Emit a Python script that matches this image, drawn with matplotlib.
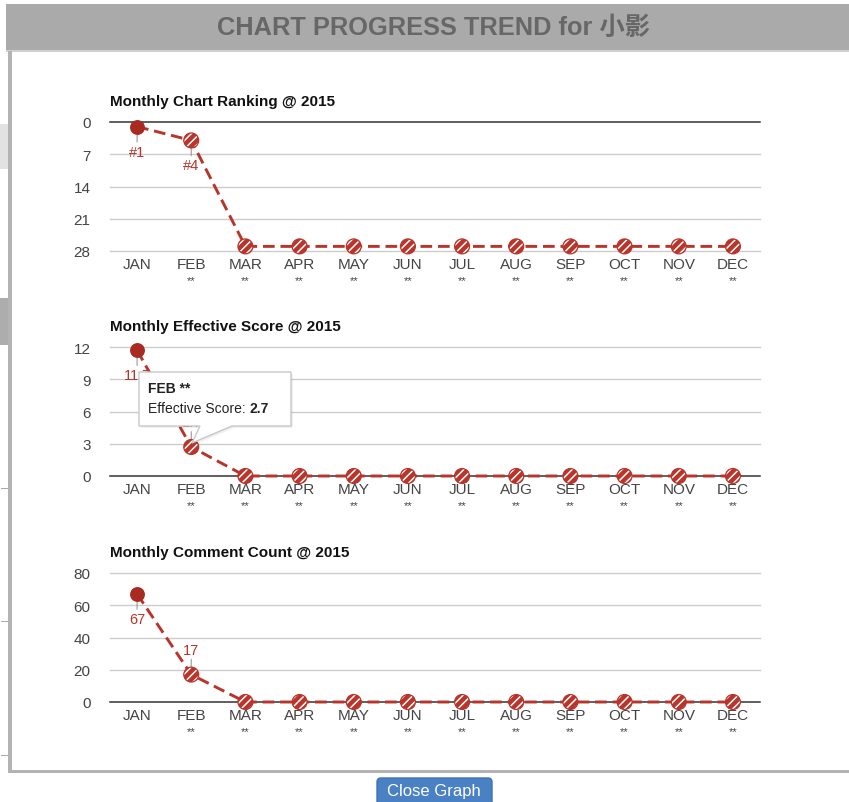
import matplotlib
matplotlib.use("Agg")
import matplotlib.pyplot as plt
from matplotlib.patches import Rectangle, FancyBboxPatch, Polygon

plt.rcParams['font.family'] = ['Liberation Sans', 'Noto Sans CJK SC', 'DejaVu Sans']
plt.rcParams['hatch.color'] = 'white'
plt.rcParams['hatch.linewidth'] = 1.1

# ---------------- data ----------------
months = ["JAN", "FEB", "MAR", "APR", "MAY", "JUN", "JUL", "AUG", "SEP", "OCT", "NOV", "DEC"]
month_sub = ["", "**", "**", "**", "**", "**", "**", "**", "**", "**", "**", "**"]
rank_values = [1, 4, 27, 27, 27, 27, 27, 27, 27, 27, 27, 27]
score_values = [11.7, 2.7, 0, 0, 0, 0, 0, 0, 0, 0, 0, 0]
comment_values = [67, 17, 0, 0, 0, 0, 0, 0, 0, 0, 0, 0]
rank_ticks = [0, 7, 14, 21, 28]
score_ticks = [0, 3, 6, 9, 12]
comment_ticks = [0, 20, 40, 60, 80]
rank_labels = ["#1", "#4"]
score_labels = ["11.7", "2.7"]
comment_labels = ["67", "17"]
main_title = "CHART PROGRESS TREND for 小影"
chart_titles = ["Monthly Chart Ranking @ 2015",
                "Monthly Effective Score @ 2015",
                "Monthly Comment Count @ 2015"]
tooltip_title = "FEB **"
tooltip_label = "Effective Score: "
tooltip_value = "2.7"
button_text = "Close Graph"

W, H = 849, 803
fig = plt.figure(figsize=(W / 100, H / 100), dpi=100)
fig.patch.set_facecolor("white")

RED = "#b9342a"
DARK = "#a82a20"

def add_chart(top_px, bottom_px, values, ticks, ymin, ymax, invert, title, labels, label_pos):
    ax = fig.add_axes([110 / W, 1 - bottom_px / H, 650 / W, (bottom_px - top_px) / H])
    ax.set_xlim(-0.5, 11.5)
    if invert:
        ax.set_ylim(ymax, ymin)
    else:
        ax.set_ylim(ymin, ymax)
    for s in ax.spines.values():
        s.set_visible(False)
    ax.set_yticks(ticks)
    ax.set_yticklabels([str(t) for t in ticks])
    ax.tick_params(axis='y', length=0, pad=14, labelsize=11, labelcolor="#444444")
    ax.set_xticks([])
    for t in ticks:
        if t == 0:
            ax.axhline(t, color="#333333", lw=1.1, zorder=1, clip_on=False)
        else:
            ax.axhline(t, color="#cccccc", lw=1.0, zorder=1, clip_on=False)
    x = list(range(len(values)))
    ax.plot(x, values, color=RED, lw=2.1, dashes=(4, 2), zorder=3, clip_on=False)
    # first point solid
    ax.scatter([x[0]], [values[0]], s=115, color=DARK, zorder=5, clip_on=False, linewidths=0)
    # hatched points
    ax.scatter(x[1:], values[1:], s=115, facecolor=RED, edgecolor="white", hatch="////",
               linewidths=0, zorder=5, clip_on=False)
    ax.scatter(x[1:], values[1:], s=115, facecolor="none", edgecolor=RED,
               linewidths=0.9, zorder=6, clip_on=False)
    # month labels
    xt = ax.get_xaxis_transform()
    for i, (m, sub) in enumerate(zip(months, month_sub)):
        ax.annotate(m, xy=(i, 0), xycoords=xt, xytext=(0, -9.5), textcoords="offset points",
                    ha="center", va="center", fontsize=11, color="#444444", annotation_clip=False)
        if sub:
            ax.annotate(sub, xy=(i, 0), xycoords=xt, xytext=(0, -21), textcoords="offset points",
                        ha="center", va="center", fontsize=8, color="#444444", annotation_clip=False)
    # data labels
    for i, (lab, pos) in enumerate(zip(labels, label_pos)):
        sign = 1 if pos == "above" else -1
        ax.annotate("", xy=(i, values[i]), xytext=(0, sign * 11), textcoords="offset points",
                    arrowprops=dict(arrowstyle="-", color="#999999", lw=0.8, shrinkA=0, shrinkB=5),
                    annotation_clip=False, zorder=4)
        ax.annotate(lab, xy=(i, values[i]), xytext=(0, sign * 18), textcoords="offset points",
                    ha="center", va="center", fontsize=10.5, color=RED, annotation_clip=False, zorder=4)
    fig.text(110 / W, 1 - (top_px - 21) / H, title, fontsize=11, fontweight="bold",
             color="#111111", ha="left", va="center")
    return ax

add_chart(123, 252, rank_values, rank_ticks, 0, 28, True, chart_titles[0], rank_labels, ["below", "below"])
add_chart(348, 477, score_values, score_ticks, 0, 12, False, chart_titles[1], score_labels, ["below", "above"])
add_chart(574, 703, comment_values, comment_ticks, 0, 80, False, chart_titles[2], comment_labels, ["below", "above"])

# ---------------- overlay (page chrome) ----------------
ov = fig.add_axes([0, 0, 1, 1], zorder=10)
ov.set_xlim(0, W)
ov.set_ylim(H, 0)
ov.axis("off")
ov.patch.set_alpha(0)

# title bar
ov.add_patch(Rectangle((6, 5), W - 6, 47, facecolor="#aaaaaa", edgecolor="none"))
ov.add_patch(Rectangle((6, 51), W - 6, 2, facecolor="#d0d0d0", edgecolor="none"))
ov.text(434, 28, main_title, ha="center", va="center", fontsize=18.3, fontweight="bold", color="#676767")

# modal border
ov.add_patch(Rectangle((8, 52), 4, 722, facecolor="#b3b3b3", edgecolor="none"))
ov.add_patch(Rectangle((8, 771), W - 8, 3, facecolor="#b3b3b3", edgecolor="none"))

# background page fragments on the left
ov.add_patch(Rectangle((0, 125), 8, 45, facecolor="#e2e2e2", edgecolor="none"))
ov.add_patch(Rectangle((0, 299), 8, 47, facecolor="#adadad", edgecolor="none"))
for yy in (489, 622, 756):
    ov.add_patch(Rectangle((1, yy), 7, 1.2, facecolor="#aaaaaa", edgecolor="none"))

# tooltip
tip = Polygon([(139, 373), (291, 373), (291, 427), (232, 427), (192, 444), (200, 427), (139, 427)],
              closed=True, facecolor="white", edgecolor="#c8c8c8", lw=1.0, zorder=5)
shadow = Polygon([(141, 375), (293, 375), (293, 429), (234, 429), (194, 446), (202, 429), (141, 429)],
                 closed=True, facecolor="#000000", alpha=0.06, edgecolor="none", zorder=4)
ov.add_patch(shadow)
ov.add_patch(tip)
ov.text(148, 389, tooltip_title, ha="left", va="center", fontsize=10, fontweight="bold", color="#222222", zorder=6)
t1 = ov.text(148, 409, tooltip_label, ha="left", va="center", fontsize=10, color="#222222", zorder=6)
fig.canvas.draw()
bb = t1.get_window_extent()
inv = ov.transData.inverted()
x_end = inv.transform((bb.x1, bb.y0))[0]
ov.text(x_end, 409, tooltip_value, ha="left", va="center", fontsize=10, fontweight="bold", color="#222222", zorder=6)

# close button
ov.add_patch(FancyBboxPatch((377, 779), 115, 30, boxstyle="round,pad=0,rounding_size=4",
                            facecolor="#4a80c4", edgecolor="#3f72b3", lw=1, clip_on=False))
ov.text(434, 792, button_text, ha="center", va="center", fontsize=12, color="white")

fig.savefig("out.png", dpi=100)
